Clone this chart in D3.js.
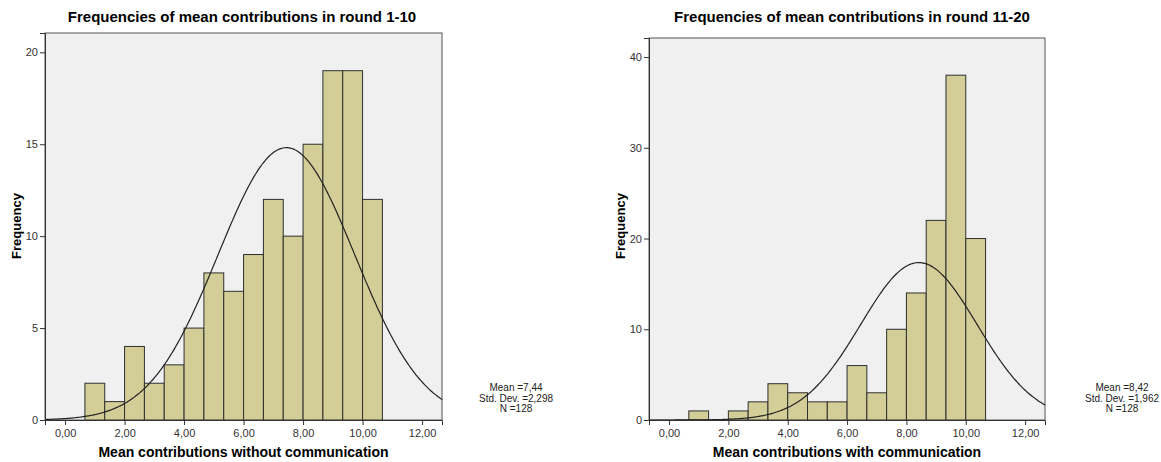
<!DOCTYPE html>
<html>
<head>
<meta charset="utf-8">
<script src="https://cdn.jsdelivr.net/npm/d3@7"></script>
<style>
  body { margin: 0; background: #fff; font-family: "Liberation Sans", Arial, sans-serif; }
</style>
</head>
<body>
<script>
// Bin edges (width 2/3) shared by both histograms
const binStarts = [0, 2/3, 4/3, 2, 8/3, 10/3, 4, 14/3, 16/3, 6, 20/3, 22/3, 8, 26/3, 28/3, 10];
const binWidth = 2 / 3;

// Frequencies per bin
const countsRound1 = [0, 2, 1, 4, 2, 3, 5, 8, 7, 9, 12, 10, 15, 19, 19, 12];
const countsRound2 = [0, 1, 0, 1, 2, 4, 3, 2, 2, 6, 3, 10, 14, 22, 38, 20];

const xTicks = [0, 2, 4, 6, 8, 10, 12];
const yTicks1 = [0, 5, 10, 15, 20];
const yTicks2 = [0, 10, 20, 30, 40];

const titles = ["Frequencies of mean contributions in round 1-10", "Frequencies of mean contributions in round 11-20"];
const xLabels = ["Mean contributions without communication", "Mean contributions with communication"];
const means = [7.44, 8.42];
const sds = [2.298, 1.962];
const ns = [128, 128];

const width = 1161;
const height = 462;
const svg = d3.select("body").append("svg")
    .attr("width", width)
    .attr("height", height);

const fmt = v => d3.format(".2f")(v).replace(".", ",");

const panels = [
    { left: 45, right: 442, top: 33, bottom: 420, yMax: 21.05, counts: countsRound1, yTicks: yTicks1, ylabX: 16, statX: 516, titleX: 242 },
    { left: 649, right: 1045, top: 38, bottom: 420, yMax: 42.1, counts: countsRound2, yTicks: yTicks2, ylabX: 620, statX: 1122, titleX: 852 }
];

panels.forEach((p, i) => {
    const g = svg.append("g");
    const x = d3.scaleLinear().domain([-0.675, 12.67]).range([p.left, p.right]);
    const y = d3.scaleLinear().domain([0, p.yMax]).range([p.bottom, p.top]);

    // plot background
    g.append("rect")
        .attr("x", p.left).attr("y", p.top)
        .attr("width", p.right - p.left).attr("height", p.bottom - p.top)
        .attr("fill", "#f0f0f0")
        .attr("stroke", "#555").attr("stroke-width", 1);

    // bars
    g.selectAll("rect.bar")
        .data(binStarts.map((s, j) => ({ s, c: p.counts[j] })).filter(d => d.c > 0))
        .enter().append("rect")
        .attr("class", "bar")
        .attr("x", d => x(d.s))
        .attr("y", d => y(d.c))
        .attr("width", d => x(d.s + binWidth) - x(d.s))
        .attr("height", d => y(0) - y(d.c))
        .attr("fill", "#d3ce97")
        .attr("stroke", "#2f2f2f")
        .attr("stroke-width", 1);

    // fitted normal curve from the shown mean / sd
    const scale = ns[i] * binWidth / (sds[i] * Math.sqrt(2 * Math.PI));
    const curvePts = d3.range(-0.675, 12.68, 0.05).map(v => [v, scale * Math.exp(-0.5 * Math.pow((v - means[i]) / sds[i], 2))]);
    g.append("path")
        .datum(curvePts)
        .attr("d", d3.line().x(d => x(d[0])).y(d => y(d[1])).curve(d3.curveBasis))
        .attr("fill", "none")
        .attr("stroke", "#222")
        .attr("stroke-width", 1.2);

    // axes
    const yAxis = g.append("g")
        .attr("transform", `translate(${p.left},0)`)
        .call(d3.axisLeft(y).tickValues(p.yTicks).tickSize(5).tickPadding(2));
    const xAxis = g.append("g")
        .attr("transform", `translate(0,${p.bottom})`)
        .call(d3.axisBottom(x).tickValues(xTicks).tickFormat(fmt).tickSize(5).tickPadding(4));
    [xAxis, yAxis].forEach(a => {
        a.select(".domain").attr("stroke", "#333");
        a.selectAll(".tick line").attr("stroke", "#333");
        a.selectAll("text").attr("fill", "#333").style("font-size", "11px").style("font-family", "Liberation Sans, Arial, sans-serif");
    });

    // titles and labels
    g.append("text")
        .attr("x", p.titleX).attr("y", 22)
        .attr("text-anchor", "middle")
        .style("font-size", "15px").style("font-weight", "bold")
        .text(titles[i]);
    g.append("text")
        .attr("x", (p.left + p.right) / 2).attr("y", 457)
        .attr("text-anchor", "middle")
        .style("font-size", "14px").style("font-weight", "bold")
        .text(xLabels[i]);
    g.append("text")
        .attr("transform", `translate(${p.ylabX + 5},226) rotate(-90)`)
        .attr("text-anchor", "middle")
        .style("font-size", "13px").style("font-weight", "bold")
        .text("Frequency");

    // stats block
    const stats = ["Mean =" + means[i].toFixed(2).replace(".", ","),
                   "Std. Dev. =" + sds[i].toFixed(3).replace(".", ","),
                   "N =" + ns[i]];
    g.selectAll("text.stat")
        .data(stats).enter().append("text")
        .attr("class", "stat")
        .attr("x", p.statX)
        .attr("y", (d, j) => 391 + j * 10.5)
        .attr("text-anchor", "middle")
        .style("font-size", "10px")
        .attr("fill", "#222")
        .text(d => d);
});
</script>
</body>
</html>
